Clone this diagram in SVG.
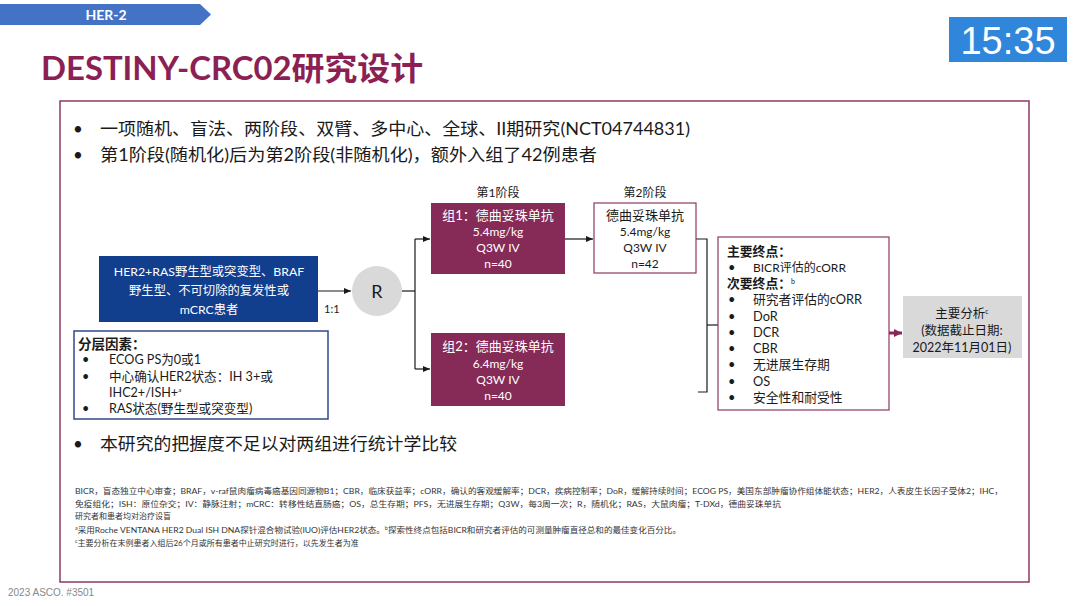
<svg xmlns="http://www.w3.org/2000/svg" width="1080" height="606" viewBox="0 0 1080 606">
<defs>
<style>
.cn{font-family:"Lato","Noto Sans CJK SC",sans-serif}
.w{fill:#ffffff}
.d{fill:#1a1a1a}
.ln{stroke:#1a1a1a;stroke-width:1.2;fill:none}
.fn{font-family:"Lato","Noto Sans CJK SC",sans-serif;font-size:8px;fill:#333}
</style>
<marker id="ah" markerWidth="8" markerHeight="8" refX="7" refY="4" orient="auto" markerUnits="userSpaceOnUse">
<path d="M0,1 L7,4 L0,7 Z" fill="#1a1a1a"/>
</marker>
<marker id="ahm" markerWidth="10" markerHeight="10" refX="8" refY="5" orient="auto" markerUnits="userSpaceOnUse">
<path d="M0,1 L8,5 L0,9 Z" fill="#8B2457"/>
</marker>
</defs>
<rect width="1080" height="606" fill="#ffffff"/>
<g id="banner">
<polygon points="0,4 200,4 211,14.5 200,25 0,25" fill="#4472C4"/>
<text x="106" y="20" text-anchor="middle" class="cn" font-size="14" font-weight="bold" fill="#fff">HER-2</text>
</g>
<g id="title">
<text x="41" y="80" class="cn" font-size="32" font-weight="bold" fill="#8C1F53" textLength="382" lengthAdjust="spacingAndGlyphs">DESTINY-CRC02研究设计</text>
</g>
<g id="timer">
<rect x="949" y="17" width="118" height="45" fill="#2F86DA"/>
<text x="1008" y="54" text-anchor="middle" font-family="Liberation Sans, sans-serif" font-size="38" fill="#fff">15:35</text>
</g>
<rect id="frame" x="60" y="101" width="969" height="481" fill="none" stroke="#8B3A62" stroke-width="1.5"/>
<g id="bullets" class="cn" font-size="17" fill="#1a1a1a">
<text x="73" y="135">•</text><text x="100" y="135" textLength="590" lengthAdjust="spacingAndGlyphs">一项随机、盲法、两阶段、双臂、多中心、全球、II期研究(NCT04744831)</text>
<text x="73" y="161">•</text><text x="100" y="161" textLength="497" lengthAdjust="spacingAndGlyphs">第1阶段(随机化)后为第2阶段(非随机化)，额外入组了42例患者</text>
<text x="73" y="450">•</text><text x="100" y="450" textLength="357" lengthAdjust="spacingAndGlyphs">本研究的把握度不足以对两组进行统计学比较</text>
</g>
<g id="connectors">
<line x1="318" y1="291" x2="351" y2="291" class="ln" marker-end="url(#ah)"/>
<polyline points="402,291 415,291" class="ln"/>
<polyline points="415,239 415,369" class="ln"/>
<line x1="415" y1="239" x2="430" y2="239" class="ln" marker-end="url(#ah)"/>
<line x1="415" y1="369" x2="430" y2="369" class="ln" marker-end="url(#ah)"/>
<line x1="565" y1="239" x2="593" y2="239" class="ln" marker-end="url(#ah)"/>
<polyline points="696,239 707,239 707,392 698,392" class="ln"/>
<line x1="707" y1="325" x2="718" y2="325" class="ln"/>
<line x1="889" y1="333" x2="902" y2="333" stroke="#8B2457" stroke-width="3" marker-end="url(#ahm)"/>
</g>
<text x="324" y="313" class="cn" font-size="11" fill="#1a1a1a">1:1</text>
<g id="patients">
<rect x="99" y="256" width="219" height="66" fill="#123E8E"/>
<text class="cn w" font-size="12.3" text-anchor="middle"><tspan x="209" y="276">HER2+RAS野生型或突变型、BRAF</tspan><tspan x="209" y="295">野生型、不可切除的复发性或</tspan><tspan x="209" y="314">mCRC患者</tspan></text>
</g>
<g id="randomize">
<circle cx="377" cy="291" r="25" fill="#D9D9D9"/>
<text x="377" y="298" text-anchor="middle" class="cn" font-size="18" fill="#1a1a1a">R</text>
</g>
<g id="strat">
<rect x="74" y="331" width="254" height="88" fill="#fff" stroke="#2F4A8A" stroke-width="1.5"/>
<text x="78" y="349" class="cn" font-size="13.5" font-weight="bold" fill="#1a1a1a">分层因素：</text>
<g class="cn" font-size="12.6" fill="#1a1a1a">
<text x="82" y="364">•</text><text x="109" y="364">ECOG PS为0或1</text>
<text x="82" y="381">•</text><text x="109" y="381">中心确认HER2状态：IH 3+或</text>
<text x="109" y="397">IHC2+/ISH+<tspan font-size="6" dy="-5">a</tspan></text>
<text x="82" y="413">•</text><text x="109" y="413">RAS状态(野生型或突变型)</text>
</g>
</g>
<text x="498" y="197" text-anchor="middle" class="cn" font-size="12" fill="#1a1a1a">第1阶段</text>
<text x="645" y="197" text-anchor="middle" class="cn" font-size="12" fill="#1a1a1a">第2阶段</text>
<g id="arm1">
<rect x="431" y="203" width="134" height="71" fill="#862B57"/>
<text class="cn w" text-anchor="middle"><tspan x="498" y="220" font-size="13">组1：德曲妥珠单抗</tspan><tspan x="498" y="236" font-size="12">5.4mg/kg</tspan><tspan x="498" y="252" font-size="12">Q3W IV</tspan><tspan x="498" y="268" font-size="12">n=40</tspan></text>
</g>
<g id="stage2">
<rect x="594" y="203" width="102" height="70" fill="#fff" stroke="#8B3A62" stroke-width="1.2"/>
<text class="cn d" text-anchor="middle"><tspan x="645" y="220" font-size="13">德曲妥珠单抗</tspan><tspan x="645" y="236" font-size="12">5.4mg/kg</tspan><tspan x="645" y="252" font-size="12">Q3W IV</tspan><tspan x="645" y="268" font-size="12">n=42</tspan></text>
</g>
<g id="arm2">
<rect x="431" y="333" width="134" height="73" fill="#862B57"/>
<text class="cn w" text-anchor="middle"><tspan x="498" y="351" font-size="13">组2：德曲妥珠单抗</tspan><tspan x="498" y="368" font-size="12">6.4mg/kg</tspan><tspan x="498" y="384" font-size="12">Q3W IV</tspan><tspan x="498" y="400" font-size="12">n=40</tspan></text>
</g>
<g id="endpoints">
<rect x="718" y="237" width="171" height="173" fill="#fff" stroke="#8B3A62" stroke-width="1.2"/>
<g class="cn" font-size="12.8" fill="#1a1a1a">
<text x="727" y="256" font-weight="bold">主要终点：</text>
<text x="728" y="272">•</text><text x="753" y="272" font-size="12">BICR评估的cORR</text>
<text x="727" y="288" font-weight="bold">次要终点：<tspan font-size="7" font-weight="normal" dy="-4">b</tspan></text>
<text x="728" y="304">•</text><text x="753" y="304">研究者评估的cORR</text>
<text x="728" y="321">•</text><text x="753" y="321">DoR</text>
<text x="728" y="337">•</text><text x="753" y="337">DCR</text>
<text x="728" y="353">•</text><text x="753" y="353">CBR</text>
<text x="728" y="369">•</text><text x="753" y="369">无进展生存期</text>
<text x="728" y="386">•</text><text x="753" y="386">OS</text>
<text x="728" y="402">•</text><text x="753" y="402">安全性和耐受性</text>
</g>
</g>
<g id="analysis">
<rect x="903" y="296" width="119" height="62" fill="#D9D9D9"/>
<text class="cn d" font-size="12.5" text-anchor="middle"><tspan x="962" y="318">主要分析<tspan font-size="7" dy="-4">c</tspan></tspan><tspan x="962" y="335">(数据截止日期:</tspan><tspan x="962" y="352">2022年11月01日)</tspan></text>
</g>
<g id="footnotes">
<text x="75" y="494" class="fn" textLength="928" lengthAdjust="spacingAndGlyphs">BICR，盲态独立中心审查；BRAF，v-raf鼠肉瘤病毒癌基因同源物B1；CBR，临床获益率；cORR，确认的客观缓解率；DCR，疾病控制率；DoR，缓解持续时间；ECOG PS，美国东部肿瘤协作组体能状态；HER2，人表皮生长因子受体2；IHC，</text>
<text x="75" y="507" class="fn" textLength="706" lengthAdjust="spacingAndGlyphs">免疫组化；ISH：原位杂交；IV：静脉注射；mCRC：转移性结直肠癌；OS，总生存期；PFS，无进展生存期；Q3W，每3周一次；R，随机化；RAS，大鼠肉瘤；T-DXd，德曲妥珠单抗</text>
<text x="75" y="519" class="fn">研究者和患者均对治疗设盲</text>
<text x="75" y="533" class="fn" textLength="606" lengthAdjust="spacingAndGlyphs"><tspan font-size="5" dy="-3">a</tspan><tspan dy="3">采用Roche VENTANA HER2 Dual ISH DNA探针混合物试验(IUO)评估HER2状态。</tspan><tspan font-size="5" dy="-3">b</tspan><tspan dy="3">探索性终点包括BICR和研究者评估的可测量肿瘤直径总和的最佳变化百分比。</tspan></text>
<text x="75" y="546" class="fn"><tspan font-size="5" dy="-3">c</tspan><tspan dy="3">主要分析在末例患者入组后26个月或所有患者中止研究时进行，以先发生者为准</tspan></text>
</g>
<text x="8" y="596" font-family="Liberation Sans, sans-serif" font-size="10" fill="#888">2023 ASCO. #3501</text>
</svg>
